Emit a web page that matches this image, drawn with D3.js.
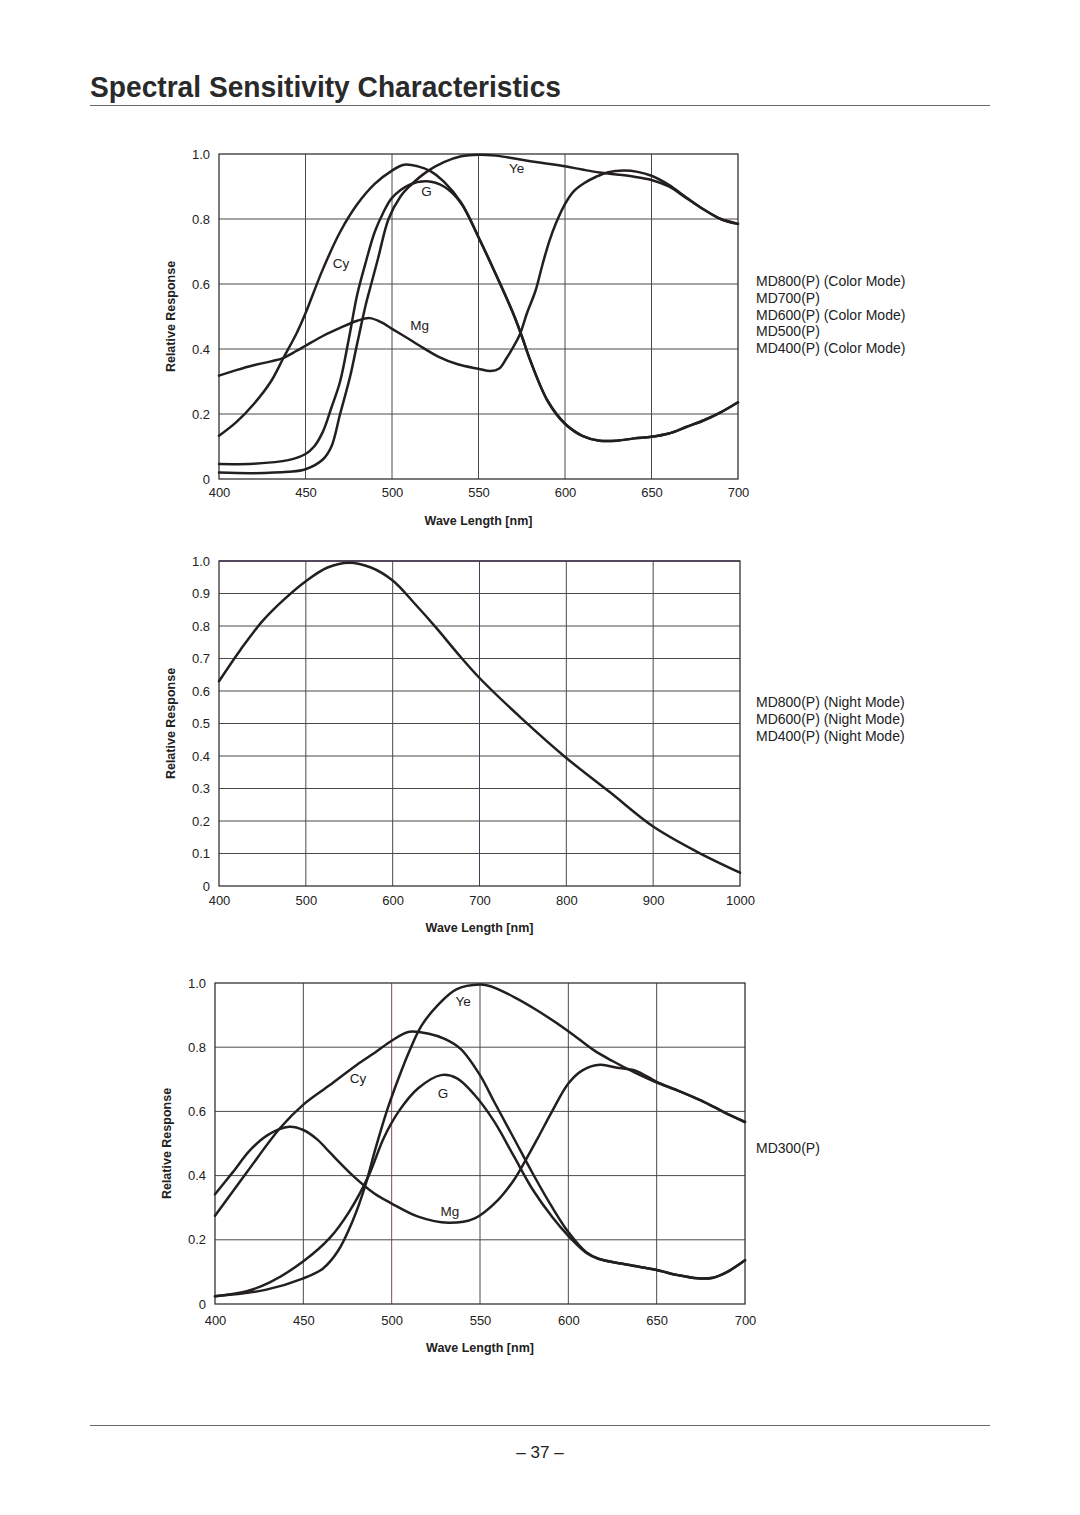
<!DOCTYPE html>
<html>
<head>
<meta charset="utf-8">
<script src="https://cdn.jsdelivr.net/npm/d3@7"></script>
<style>
  html, body { margin: 0; padding: 0; background: #fff; }
  svg { display: block; font-family: "Liberation Sans", Arial, Helvetica, sans-serif; }
</style>
</head>
<body>
<svg id="page" width="1080" height="1515"></svg>
<script>
// ---------- DATA ----------
// Chart 1: MD800/700/600/500/400 colour mode
const c1Cy = [[400,0.133],[410,0.175],[420,0.23],[430,0.3],[437,0.37],[445,0.45],[450,0.51],[460,0.645],[470,0.76],[480,0.846],[490,0.908],[500,0.949],[507,0.967],[515,0.962],[522,0.948],[530,0.915],[540,0.85],[550,0.744],[560,0.63],[570,0.51],[575,0.44],[580,0.364],[590,0.24],[600,0.17],[610,0.133],[620,0.118],[630,0.118],[640,0.125],[650,0.13],[660,0.14],[670,0.16],[680,0.18],[690,0.205],[700,0.236]];
const c1G  = [[400,0.046],[420,0.047],[440,0.058],[450,0.077],[455,0.1],[460,0.145],[465,0.22],[470,0.3],[475,0.43],[480,0.57],[485,0.67],[490,0.76],[495,0.82],[500,0.865],[510,0.905],[520,0.916],[530,0.9],[540,0.848],[550,0.744],[560,0.63],[570,0.51],[575,0.44],[580,0.364],[590,0.24],[600,0.17],[610,0.133],[620,0.118],[630,0.118],[640,0.125],[650,0.13],[660,0.14],[670,0.16],[680,0.18],[690,0.205],[700,0.236]];
const c1Ye = [[400,0.02],[420,0.018],[440,0.022],[450,0.03],[460,0.06],[465,0.1],[470,0.2],[476,0.32],[480,0.42],[485,0.54],[488,0.6],[492,0.68],[498,0.8],[505,0.87],[510,0.9],[520,0.945],[530,0.975],[540,0.993],[550,0.998],[560,0.995],[570,0.987],[580,0.978],[590,0.97],[600,0.962],[610,0.952],[620,0.943],[630,0.937],[640,0.93],[650,0.92],[660,0.9],[670,0.865],[680,0.83],[690,0.8],[700,0.785]];
const c1Mg = [[400,0.318],[410,0.335],[420,0.35],[430,0.362],[437,0.372],[445,0.395],[450,0.41],[460,0.44],[470,0.465],[480,0.487],[487,0.495],[494,0.482],[500,0.462],[510,0.43],[516,0.41],[527,0.376],[538,0.353],[550,0.339],[557,0.332],[562,0.34],[566,0.37],[570,0.405],[574,0.446],[578,0.51],[583,0.58],[587,0.66],[591,0.733],[595,0.79],[600,0.846],[605,0.885],[611,0.91],[618,0.93],[625,0.944],[634,0.949],[642,0.945],[650,0.933],[660,0.905],[670,0.867],[680,0.83],[690,0.8],[700,0.785]];

// Chart 2: night mode
const c2Night = [[400,0.63],[425,0.728],[450,0.815],[475,0.882],[500,0.938],[525,0.98],[550,0.995],[575,0.98],[600,0.94],[625,0.87],[650,0.795],[675,0.715],[700,0.64],[750,0.512],[800,0.394],[850,0.289],[900,0.183],[950,0.106],[1000,0.041]];

// Chart 3: MD300(P)
const c3Mg = [[400,0.342],[410,0.41],[420,0.48],[430,0.527],[442,0.552],[450,0.542],[458,0.512],[465,0.472],[478,0.4],[490,0.345],[500,0.313],[515,0.272],[532,0.253],[547,0.267],[560,0.323],[569,0.385],[575.6,0.446],[583,0.52],[590.8,0.6],[600,0.687],[608,0.728],[618,0.745],[627.6,0.736],[638,0.727],[650,0.692],[662,0.665],[675,0.634],[688,0.598],[700,0.567]];
const c3Cy = [[400,0.275],[417.7,0.408],[437,0.549],[450,0.621],[465,0.682],[480,0.744],[491,0.785],[500,0.82],[510,0.848],[521.6,0.841],[530,0.826],[539,0.795],[550,0.713],[558,0.63],[569,0.518],[580,0.405],[591,0.3],[600,0.224],[610,0.162],[617,0.141],[630,0.126],[640,0.116],[650,0.106],[662,0.09],[673,0.08],[682,0.082],[690,0.1],[700,0.136]];
const c3G  = [[400,0.024],[418,0.04],[431,0.067],[450,0.133],[465,0.206],[476,0.288],[487,0.4],[495.6,0.518],[504,0.6],[515,0.672],[528,0.713],[537,0.703],[547,0.651],[558,0.569],[569,0.462],[580,0.355],[591,0.27],[600,0.212],[610,0.16],[617,0.141],[630,0.126],[640,0.116],[650,0.106],[662,0.09],[673,0.08],[682,0.082],[690,0.1],[700,0.136]];
const c3Ye = [[400,0.024],[428.5,0.044],[450,0.08],[461,0.11],[469.6,0.165],[478,0.26],[484.8,0.364],[491,0.487],[497.8,0.61],[504,0.705],[510.7,0.797],[517,0.868],[526,0.93],[536.6,0.98],[550,0.995],[556,0.99],[569,0.957],[582,0.916],[600,0.85],[614.6,0.79],[625,0.757],[638,0.72],[650,0.69],[662,0.665],[675,0.634],[688,0.598],[700,0.567]];

// Tick labels and texts
const xTicks1 = [400,450,500,550,600,650,700];
const yTicks1 = [0,0.2,0.4,0.6,0.8,1.0];
const xTicks2 = [400,500,600,700,800,900,1000];
const yTicks2 = [0,0.1,0.2,0.3,0.4,0.5,0.6,0.7,0.8,0.9,1.0];
const legend1 = ["MD800(P) (Color Mode)","MD700(P)","MD600(P) (Color Mode)","MD500(P)","MD400(P) (Color Mode)"];
const legend2 = ["MD800(P) (Night Mode)","MD600(P) (Night Mode)","MD400(P) (Night Mode)"];
const legend3 = ["MD300(P)"];
const seriesNames = ["Cy","G","Ye","Mg"];

// ---------- DRAW ----------
const svg = d3.select("#page");
const INK = "#231f20";

// Title
svg.append("text").attr("x",90).attr("y",97)
  .attr("font-size",29).attr("font-weight","bold").attr("fill","#2a2a2a")
  .attr("textLength",471).attr("lengthAdjust","spacingAndGlyphs")
  .text("Spectral Sensitivity Characteristics");
svg.append("line").attr("x1",90).attr("x2",990).attr("y1",105.5).attr("y2",105.5)
  .attr("stroke","#666").attr("stroke-width",1.2);
svg.append("line").attr("x1",90).attr("x2",990).attr("y1",1425.5).attr("y2",1425.5)
  .attr("stroke","#666").attr("stroke-width",1.2);
svg.append("text").attr("x",540).attr("y",1458).attr("text-anchor","middle")
  .attr("font-size",17).attr("fill","#222").text("\u2013 37 \u2013");

function drawChart(cfg) {
  const x = d3.scaleLinear().domain(cfg.xDomain).range([cfg.left, cfg.right]);
  const y = d3.scaleLinear().domain([0,1]).range([cfg.bottom, cfg.top]);
  const g = svg.append("g");

  // grid
  g.selectAll(".vg").data(cfg.xTicks.slice(1,-1)).join("line")
    .attr("x1",d=>x(d)).attr("x2",d=>x(d)).attr("y1",cfg.top).attr("y2",cfg.bottom)
    .attr("stroke",d=>cfg.specialV && cfg.specialV[d] ? cfg.specialV[d] : "#4a4a4a").attr("stroke-width",1);
  g.selectAll(".hg").data(cfg.yTicks.slice(1,-1)).join("line")
    .attr("x1",cfg.left).attr("x2",cfg.right).attr("y1",d=>y(d)).attr("y2",d=>y(d))
    .attr("stroke","#4a4a4a").attr("stroke-width",1);
  // frame
  g.append("rect").attr("x",cfg.left).attr("y",cfg.top)
    .attr("width",cfg.right-cfg.left).attr("height",cfg.bottom-cfg.top)
    .attr("fill","none").attr("stroke","#333").attr("stroke-width",1.3);
  if (cfg.topColor) {
    g.append("line").attr("x1",cfg.left).attr("x2",cfg.right).attr("y1",cfg.top).attr("y2",cfg.top)
      .attr("stroke",cfg.topColor).attr("stroke-width",1.3);
  }

  // axes (labels only)
  const xa = d3.axisBottom(x).tickValues(cfg.xTicks).tickSize(0).tickPadding(cfg.xPad)
    .tickFormat(d3.format("d"));
  g.append("g").attr("transform",`translate(0,${cfg.bottom})`).call(xa)
    .call(s=>s.select(".domain").remove())
    .selectAll("text").attr("font-size",13).attr("fill","#222")
    .attr("font-family","'Liberation Sans', Arial, sans-serif");
  const ya = d3.axisLeft(y).tickValues(cfg.yTicks).tickSize(0).tickPadding(cfg.yPad)
    .tickFormat(d=> d===0 ? "0" : d3.format(".1f")(d));
  g.append("g").attr("transform",`translate(${cfg.left},0)`).call(ya)
    .call(s=>s.select(".domain").remove())
    .selectAll("text").attr("font-size",13).attr("fill","#222")
    .attr("font-family","'Liberation Sans', Arial, sans-serif");

  // axis titles
  g.append("text").attr("x",(cfg.left+cfg.right)/2).attr("y",cfg.bottom+cfg.xTitleOff)
    .attr("text-anchor","middle").attr("font-size",12.5).attr("font-weight","bold").attr("fill","#222")
    .text("Wave Length [nm]");
  g.append("text")
    .attr("transform",`translate(${cfg.yTitleX},${(cfg.top+cfg.bottom)/2}) rotate(-90)`)
    .attr("text-anchor","middle").attr("dy","0.35em")
    .attr("font-size",12.5).attr("font-weight","bold").attr("fill","#222")
    .text("Relative Response");

  // curves
  const line = d3.line().x(d=>x(d[0])).y(d=>y(d[1])).curve(d3.curveCatmullRom.alpha(0.5));
  g.selectAll(".curve").data(cfg.series).join("path")
    .attr("d",d=>line(d)).attr("fill","none").attr("stroke",INK)
    .attr("stroke-width",2.5).attr("stroke-linejoin","round").attr("stroke-linecap","round");

  // series labels
  (cfg.labels||[]).forEach(l=>{
    g.append("text").attr("x",x(l.wl)).attr("y",y(l.v)).attr("text-anchor","middle")
      .attr("dy","0.35em").attr("font-size",13.5).attr("fill","#222").text(l.t);
  });

  // legend
  g.selectAll(".leg").data(cfg.legend).join("text")
    .attr("x",756).attr("y",(d,i)=>cfg.legendY + i*16.8).attr("dy","0.35em")
    .attr("font-size",14).attr("fill","#222").text(d=>d);
}

drawChart({
  left:219, right:738, top:154, bottom:479, xDomain:[400,700],
  xTicks:xTicks1, yTicks:yTicks1, xPad:9, yPad:9, xTitleOff:46, yTitleX:171,
  series:[c1Cy,c1G,c1Ye,c1Mg],
  labels:[{t:seriesNames[0],wl:470.5,v:0.664},{t:seriesNames[1],wl:520,v:0.885},{t:seriesNames[2],wl:572,v:0.957},{t:seriesNames[3],wl:516,v:0.472}],
  legend:legend1, legendY:281
});

drawChart({
  left:219, right:740, top:561, bottom:886, xDomain:[400,1000],
  xTicks:xTicks2, yTicks:yTicks2, xPad:10, yPad:9, xTitleOff:46, yTitleX:171,
  series:[c2Night], specialV:{700:"#4a3a55"}, topColor:"#4a3a55",
  labels:[], legend:legend2, legendY:702
});

drawChart({
  left:215, right:745, top:983, bottom:1304, xDomain:[400,700],
  xTicks:xTicks1, yTicks:yTicks1, xPad:12, yPad:9, xTitleOff:48, yTitleX:167,
  series:[c3Cy,c3G,c3Ye,c3Mg], specialV:{500:"#8a4a4a"},
  labels:[{t:seriesNames[0],wl:481,v:0.703},{t:seriesNames[1],wl:529,v:0.655},{t:seriesNames[2],wl:540.4,v:0.942},{t:seriesNames[3],wl:533,v:0.288}],
  legend:legend3, legendY:1148
});
</script>
</body>
</html>
